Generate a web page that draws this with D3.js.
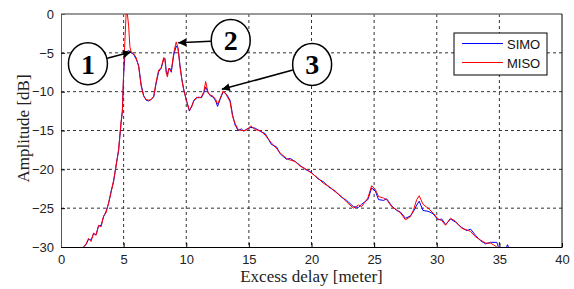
<!DOCTYPE html>
<html>
<head>
<meta charset="utf-8">
<script src="https://cdn.jsdelivr.net/npm/d3@7"></script>
<style>
  body { margin: 0; background: #fff; }
  svg { display: block; }
</style>
</head>
<body>
<svg id="chart" width="574" height="289"></svg>
<script>
// excess delay [meter]
const delay = [
  1.6, 1.8, 2.0, 2.2, 2.4, 2.6, 2.8, 3.0, 3.2, 3.4, 3.6, 3.8, 4.0, 4.2, 4.4, 4.6,
  4.8, 4.9, 5.0, 5.1, 5.2, 5.3, 5.4, 5.5, 5.6, 5.8, 6.0, 6.2, 6.4, 6.6, 6.8, 7.0,
  7.2, 7.4, 7.6, 7.8, 8.0, 8.2, 8.3, 8.4, 8.5, 8.6, 8.7, 8.8, 9.0, 9.2, 9.35, 9.5,
  9.65, 9.8, 10.0, 10.25, 10.45, 10.6, 10.85, 11.0, 11.2, 11.4, 11.55, 11.75, 11.9, 12.15,
  12.35, 12.5, 12.7, 12.95, 13.2, 13.5, 13.7, 13.9, 14.15, 14.4, 14.6, 14.85, 15.15, 15.5,
  15.9, 16.3, 16.8, 17.2, 17.5, 18.0, 18.3, 18.7, 19.1, 19.5, 20.0, 20.5, 20.95, 21.4,
  21.9, 22.4, 22.8, 23.35, 23.75, 24.0, 24.5, 24.8, 25.1, 25.35, 25.75, 26.0, 26.4, 26.8,
  27.1, 27.5, 27.9, 28.15, 28.4, 28.6, 28.9, 29.3, 29.7, 30.1, 30.4, 30.7, 31.1, 31.5,
  32.0, 32.4, 32.7, 33.1, 33.5, 33.9, 34.3, 34.8, 35.0, 35.5, 35.65, 35.8
];
// amplitude [dB]
const simo = [
  -31, -30, -29.7, -29.0, -29.1, -28.3, -28.4, -27.3, -27.2, -26.1, -25.4, -24.4, -22.8, -21.6, -19.4, -17.6,
  -14.0, -12.5, -7.8, -5.3, -4.9, -4.8, -4.7, -4.8, -5.0, -5.2, -5.8, -6.6, -9.1, -10.5, -11.1, -11.2,
  -11.0, -10.7, -8.9, -7.4, -7.0, -5.8, -5.7, -7.3, -7.8, -7.1, -7.0, -7.5, -5.3, -4.1, -4.5, -6.6,
  -8.4, -9.7, -11.1, -12.5, -11.8, -11.2, -10.8, -10.7, -10.8, -10.2, -9.4, -10.1, -10.5, -10.7,
  -11.2, -11.9, -11.0, -10.0, -10.3, -11.1, -13.0, -14.3, -15.0, -14.8, -15.1, -14.8, -14.6, -14.7,
  -15.1, -15.4, -16.8, -17.1, -18.0, -18.7, -18.6, -19.0, -19.5, -20.0, -20.4, -21.2, -21.6, -22.3,
  -22.8, -23.6, -24.0, -24.8, -24.9, -24.5, -23.9, -22.4, -22.8, -23.9, -24.0, -23.8, -24.7, -25.3,
  -25.5, -26.3, -26.0, -25.4, -24.6, -24.1, -25.3, -25.4, -25.7, -26.5, -26.4, -27.1, -26.4, -26.8,
  -27.5, -27.9, -27.7, -28.5, -29.2, -29.6, -29.4, -29.4, -30.4, -30.3, -29.7, -30.4
];
const miso = [
  -31, -30, -29.6, -28.9, -29.3, -28.2, -28.5, -27.2, -27.4, -26.0, -25.6, -24.3, -23.0, -21.4, -19.6, -17.4,
  -13.8, -12.6, -7.5, -3.5, 0, 0, -1.5, -4.2, -4.9, -5.1, -5.6, -6.8, -9.3, -10.6, -11.0, -11.1,
  -11.0, -10.6, -8.7, -7.2, -6.9, -5.6, -5.9, -7.6, -8.1, -7.0, -7.2, -7.4, -5.0, -3.6, -4.4, -6.8,
  -8.5, -9.8, -11.0, -12.4, -11.9, -11.1, -10.7, -10.8, -10.7, -10.0, -8.7, -10.2, -10.4, -10.6,
  -11.0, -11.6, -10.9, -9.9, -10.4, -11.3, -13.2, -14.1, -14.9, -15.0, -15.0, -14.9, -14.4, -14.9,
  -15.0, -15.6, -16.6, -17.3, -17.9, -18.6, -18.8, -19.0, -19.6, -19.9, -20.5, -21.1, -21.8, -22.2,
  -22.9, -23.5, -24.2, -25.0, -24.6, -24.8, -23.7, -22.1, -22.6, -23.5, -23.7, -23.9, -24.8, -25.2,
  -25.6, -26.5, -26.1, -25.2, -23.9, -23.4, -24.5, -25.0, -25.6, -26.4, -26.6, -27.2, -26.3, -26.7,
  -27.6, -27.8, -28.0, -28.7, -29.1, -29.5, -29.5, -30.0, -31, -31, -31, -31
];
const seriesNames = ["SIMO", "MISO"];
const xTicks = [0, 5, 10, 15, 20, 25, 30, 35, 40];
const yTicks = [0, -5, -10, -15, -20, -25, -30];
// numbered callouts: circle centre and arrow tip, both in (delay, dB)
const calloutLabels = ["1", "2", "3"];
const calloutCentre = [[2.15, -6.4], [13.55, -3.4], [20.05, -6.5]];
const calloutTip = [[5.59, -4.9], [9.35, -3.7], [12.84, -9.7]];

const width = 574, height = 289;
const margin = { top: 14, right: 12, bottom: 42, left: 61 };
const colors = { SIMO: "#0000ff", MISO: "#ff0000" };

const svg = d3.select("#chart");

const x = d3.scaleLinear().domain([0, 40]).range([margin.left, width - margin.right]);
const y = d3.scaleLinear().domain([-30, 0]).range([height - margin.bottom, margin.top]);

svg.append("defs").append("clipPath").attr("id", "plotClip")
  .append("rect")
  .attr("x", x(0)).attr("y", y(0))
  .attr("width", x(40) - x(0)).attr("height", y(-30) - y(0));

svg.append("defs").append("marker")
  .attr("id", "arrowHead")
  .attr("viewBox", "0 0 10 10")
  .attr("refX", 10).attr("refY", 5)
  .attr("markerWidth", 10).attr("markerHeight", 8)
  .attr("markerUnits", "userSpaceOnUse")
  .attr("orient", "auto")
  .append("path").attr("d", "M0,0 L10,5 L0,10 z").attr("fill", "#000");

// grid
const grid = svg.append("g");
grid.selectAll(".vg").data(xTicks.slice(1, -1)).enter().append("line")
  .attr("x1", (d) => x(d)).attr("x2", (d) => x(d))
  .attr("y1", y(0)).attr("y2", y(-30))
  .attr("stroke", "#333").attr("stroke-width", 1).attr("stroke-dasharray", "3,3");
grid.selectAll(".hg").data(yTicks.slice(1, -1)).enter().append("line")
  .attr("x1", x(0)).attr("x2", x(40))
  .attr("y1", (d) => y(d)).attr("y2", (d) => y(d))
  .attr("stroke", "#333").attr("stroke-width", 1).attr("stroke-dasharray", "3,3");

// axes
const xAxis = (g) =>
  g.attr("transform", `translate(0, ${y(-30)})`)
    .call(d3.axisBottom(x).tickValues(xTicks).tickSizeInner(-4).tickSizeOuter(0).tickPadding(8))
    .call((g) => g.select(".domain").attr("stroke", "#000"))
    .call((g) => g.selectAll("text").attr("font-family", "Liberation Sans, Arial, sans-serif")
      .attr("font-size", "13px").attr("fill", "#222"));

const yAxis = (g) =>
  g.attr("transform", `translate(${x(0)}, 0)`)
    .call(d3.axisLeft(y).tickValues(yTicks).tickSizeInner(-4).tickSizeOuter(0).tickPadding(7))
    .call((g) => g.select(".domain").attr("stroke", "#555"))
    .call((g) => g.selectAll("text").attr("font-family", "Liberation Sans, Arial, sans-serif")
      .attr("font-size", "13px").attr("fill", "#222"));

svg.append("g").call(xAxis);
svg.append("g").call(yAxis);

// top / right frame
svg.append("line").attr("x1", x(0)).attr("x2", x(40)).attr("y1", y(0)).attr("y2", y(0))
  .attr("stroke", "#777").attr("stroke-width", 1.5);
svg.append("line").attr("x1", x(40)).attr("x2", x(40)).attr("y1", y(0)).attr("y2", y(-30))
  .attr("stroke", "#000");

// curves
const line = d3.line()
  .x((d, i) => x(delay[i]))
  .y((d) => y(d));

const plot = svg.append("g").attr("clip-path", "url(#plotClip)");
[simo, miso].forEach((vals, k) => {
  plot.append("path")
    .datum(vals)
    .attr("fill", "none")
    .attr("stroke", colors[seriesNames[k]])
    .attr("stroke-width", 1)
    .attr("d", line);
});

// callouts
calloutLabels.forEach((lab, i) => {
  const cx = x(calloutCentre[i][0]), cy = y(calloutCentre[i][1]);
  const tx = x(calloutTip[i][0]), ty = y(calloutTip[i][1]);
  const ang = Math.atan2(ty - cy, tx - cx);
  svg.append("line")
    .attr("x1", cx + 20 * Math.cos(ang)).attr("y1", cy + 21 * Math.sin(ang))
    .attr("x2", tx).attr("y2", ty)
    .attr("stroke", "#000").attr("stroke-width", 1.5)
    .attr("marker-end", "url(#arrowHead)");
  svg.append("ellipse")
    .attr("cx", cx).attr("cy", cy).attr("rx", 19.5).attr("ry", 21)
    .attr("fill", "#fff").attr("stroke", "#000").attr("stroke-width", 1.5);
  svg.append("text")
    .attr("x", cx).attr("y", cy + 10)
    .attr("text-anchor", "middle")
    .attr("font-family", "Liberation Serif, Times New Roman, serif")
    .attr("font-weight", "bold").attr("font-size", "28px")
    .text(lab);
});

// legend
const legend = svg.append("g").attr("transform", "translate(454, 33)");
legend.append("rect").attr("width", 93).attr("height", 42)
  .attr("fill", "#fff").attr("stroke", "#000").attr("stroke-width", 1);
seriesNames.forEach((name, i) => {
  legend.append("line")
    .attr("x1", 8).attr("x2", 49)
    .attr("y1", 10.5 + i * 19).attr("y2", 10.5 + i * 19)
    .attr("stroke", colors[name]).attr("stroke-width", 1);
  legend.append("text")
    .attr("x", 53).attr("y", 15.5 + i * 19)
    .attr("font-family", "Liberation Sans, Arial, sans-serif")
    .attr("font-size", "13px").attr("fill", "#111")
    .text(name);
});

// axis titles
svg.append("text")
  .attr("x", (x(0) + x(40)) / 2).attr("y", 282)
  .attr("text-anchor", "middle")
  .attr("font-family", "Liberation Serif, Times New Roman, serif")
  .attr("font-size", "17px").attr("fill", "#222")
  .text("Excess delay [meter]");
svg.append("text")
  .attr("transform", `translate(29, ${(y(0) + y(-30)) / 2 - 2}) rotate(-90)`)
  .attr("text-anchor", "middle")
  .attr("font-family", "Liberation Serif, Times New Roman, serif")
  .attr("font-size", "17px").attr("fill", "#222")
  .text("Amplitude [dB]");
</script>
</body>
</html>
